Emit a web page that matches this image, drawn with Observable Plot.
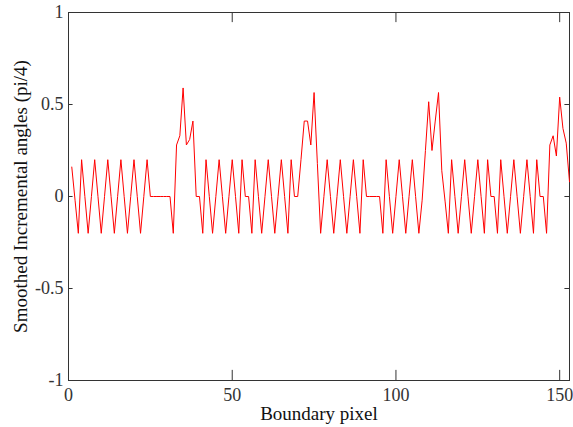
<!DOCTYPE html>
<html>
<head>
<meta charset="utf-8">
<script src="https://cdn.jsdelivr.net/npm/d3@7"></script>
<script src="https://cdn.jsdelivr.net/npm/@observablehq/plot@0.6"></script>
<style>
  html, body { margin: 0; padding: 0; background: #fff; }
  #chart { width: 573px; height: 427px; }
</style>
</head>
<body>
<div id="chart"></div>
<script>
const angles = [
  0.16, -0.02, -0.2, 0.2, 0, -0.2, 0, 0.2, 0, -0.2,
  0, 0.2, 0, -0.2, 0, 0.2, 0, -0.2, 0, 0.2,
  0, -0.2, 0, 0.2, 0, 0, 0, 0, 0, 0,
  0, -0.2, 0.28, 0.33, 0.59, 0.28, 0.31, 0.41, 0, 0,
  -0.2, 0.2, 0, -0.2, 0, 0.2, 0, -0.2, 0, 0.2,
  0, -0.2, 0.2, 0, 0, -0.2, 0.2, 0, -0.2, 0,
  0.2, 0, -0.2, 0, 0.2, 0, -0.2, 0.2, 0, 0,
  0.2, 0.41, 0.41, 0.28, 0.565, 0.18, -0.2, 0, 0.2, 0,
  -0.2, 0, 0.2, 0, -0.2, 0, 0.2, 0, -0.2, 0.2,
  0, 0, 0, 0, 0, -0.2, 0.2, 0, -0.2, 0,
  0.2, 0, -0.2, 0, 0.2, 0, -0.2, -0.02, 0.25, 0.515,
  0.25, 0.41, 0.565, 0.14, -0.025, -0.2, 0.2, 0, -0.2, 0,
  0.2, 0, -0.2, 0, 0.2, 0, -0.2, 0.2, 0, 0,
  -0.2, 0.2, 0, -0.2, 0, 0.2, 0, -0.2, 0, 0.2,
  0, -0.2, 0.2, 0, 0, -0.2, 0.28, 0.33, 0.22, 0.54,
  0.37, 0.29, 0.08
];
const pixels = angles.map((_, i) => i + 1);
const xTicks = [0, 50, 100, 150];
const yTicks = [-1, -0.5, 0, 0.5, 1];
const xLabel = "Boundary pixel";
const yLabel = "Smoothed Incremental angles (pi/4)";

const data = pixels.map((p, i) => ({x: p, y: angles[i]}));
const axisColor = "#333333";
const font = "'Liberation Serif', 'Times New Roman', serif";
const xTickLen = 1.4;   // in data units
const yTickLen = 0.025; // in data units

const chart = Plot.plot({
  width: 573,
  height: 427,
  marginLeft: 68,
  marginRight: 4,
  marginTop: 12,
  marginBottom: 47,
  style: {fontFamily: font, fontSize: "18px", color: axisColor, background: "#fff"},
  x: {domain: [0, 153], ticks: xTicks},
  y: {domain: [-1, 1], ticks: yTicks},
  marks: [
    Plot.frame({stroke: axisColor, strokeWidth: 1}),
    // inward ticks, bottom and top
    Plot.ruleX(xTicks, {x: d => d, y1: -1, y2: -1 + yTickLen * 2.2, stroke: axisColor}),
    Plot.ruleX(xTicks, {x: d => d, y1: 1, y2: 1 - yTickLen * 2.2, stroke: axisColor}),
    // inward ticks, left and right
    Plot.ruleY(yTicks, {y: d => d, x1: 0, x2: xTickLen, stroke: axisColor}),
    Plot.ruleY(yTicks, {y: d => d, x1: 153, x2: 153 - xTickLen, stroke: axisColor}),
    Plot.axisX(xTicks, {anchor: "bottom", tickSize: 0, tickPadding: 8, tickFormat: d => String(d), fontSize: 18, label: null}),
    Plot.axisY(yTicks, {anchor: "left", tickSize: 0, tickPadding: 5, tickFormat: d => String(d), fontSize: 18, label: null}),
    Plot.text([xLabel], {frameAnchor: "bottom", dy: 39, text: d => d, fontSize: 19, fill: "#111"}),
    Plot.text([yLabel], {frameAnchor: "left", dx: -48, rotate: -90, textAnchor: "middle", text: d => d, fontSize: 19, fill: "#111"}),
    Plot.line(data, {x: "x", y: "y", stroke: "#ff0000", strokeWidth: 1})
  ]
});
document.getElementById("chart").appendChild(chart);
</script>
</body>
</html>
